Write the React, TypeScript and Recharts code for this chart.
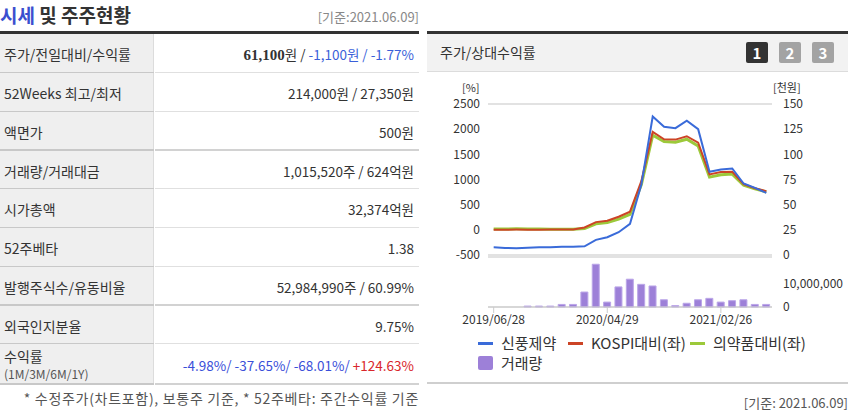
import React from 'react';
import {
  ComposedChart,
  BarChart,
  Bar,
  Line,
  XAxis,
  YAxis,
  CartesianGrid,
  ReferenceLine,
} from 'recharts';

const FONT = '"Noto Sans CJK KR", "Noto Sans", sans-serif';

// monthly points, 2019/06 ~ 2021/06
const dates = [
  '2019/06/28', '2019/07/31', '2019/08/30', '2019/09/30', '2019/10/31',
  '2019/11/29', '2019/12/30', '2020/01/31', '2020/02/28', '2020/03/31',
  '2020/04/29', '2020/05/29', '2020/06/30', '2020/07/31', '2020/08/31',
  '2020/09/29', '2020/10/30', '2020/11/30', '2020/12/30', '2021/01/29',
  '2021/02/26', '2021/03/31', '2021/04/30', '2021/05/31', '2021/06/09',
];
const xTicks = ['2019/06/28', '2020/04/29', '2021/02/26'];

// 신풍제약 주가 (천원, 우축)
const price = [
  7.6, 7.0, 6.7, 7.3, 7.6, 7.6, 8.3, 8.2, 8.6, 15.0, 17.6, 22.6, 31.0,
  70.0, 137.6, 127.4, 126.0, 133.4, 125.0, 82.6, 85.0, 86.0, 71.0, 66.7, 61.7,
];
// KOSPI대비 (%, 좌축)
const kospiRel = [
  0, 3, 5, 3, 4, 5, 6, 7, 47, 153, 180, 260, 360,
  967, 1947, 1800, 1793, 1860, 1733, 1100, 1147, 1153, 907, 827, 767,
];
// 의약품대비 (%, 좌축)
const pharmaRel = [
  15, 18, 20, 18, 15, 12, 10, 12, 27, 120, 147, 213, 307,
  900, 1880, 1753, 1740, 1800, 1667, 1047, 1093, 1107, 887, 813, 753,
];
// 거래량 (주)
const volume = [
  0, 0, 0, 400000, 400000, 400000, 1100000, 1100000, 6400000, 18300000,
  2100000, 8600000, 11900000, 9700000, 9000000, 3100000, 600000, 1600000,
  3100000, 3700000, 2100000, 2700000, 3100000, 1100000, 1100000,
];

const leftTicks = [-500, 0, 500, 1000, 1500, 2000, 2500];
const rightTicks = [0, 25, 50, 75, 100, 125, 150];
const volTicks = [0, 10000000];

const rows: { label: React.ReactNode; value: React.ReactNode; thick?: boolean; h: number }[] = [
  {
    label: '주가/전일대비/수익률',
    value: (
      <span>
        <b style={{ fontFamily: '"Liberation Serif", serif', fontSize: 15 }}>61,100</b>원 /{' '}
        <span style={{ color: '#3a5fd9' }}>-1,100원 / -1.77%</span>
      </span>
    ),
    h: 38,
  },
  { label: '52Weeks 최고/최저', value: '214,000원 / 27,350원', h: 38 },
  { label: '액면가', value: '500원', h: 37, thick: true },
  { label: '거래량/거래대금', value: '1,015,520주 / 624억원', h: 37 },
  { label: '시가총액', value: '32,374억원', h: 38 },
  { label: '52주베타', value: '1.38', h: 38 },
  { label: '발행주식수/유동비율', value: '52,984,990주 / 60.99%', h: 37, thick: true },
  { label: '외국인지분율', value: '9.75%', h: 37 },
  {
    label: (
      <div>
        <div style={{ lineHeight: '19px' }}>수익률</div>
        <div style={{ fontSize: 12, color: '#555', lineHeight: '16px' }}>(1M/3M/6M/1Y)</div>
      </div>
    ),
    value: (
      <span>
        <span style={{ color: '#3a4fd9' }}>-4.98%/ -37.65%/ -68.01%/ </span>
        <span style={{ color: '#d9262b' }}>+124.63%</span>
      </span>
    ),
    h: 39,
    thick: true,
  },
];

const lineData = dates.map((d, i) => ({
  date: d,
  price: price[i],
  kospi: kospiRel[i],
  pharma: pharmaRel[i],
}));
const volData = dates.map((d, i) => ({ date: d, volume: volume[i] }));

const tickStyle = { fill: '#333', fontSize: 12, fontFamily: FONT };

const Btn = ({ n, on }: { n: number; on?: boolean }) => (
  <div
    style={{
      width: 22,
      height: 21,
      borderRadius: 2,
      background: on ? '#333' : '#a3a3a3',
      color: '#fff',
      fontWeight: 700,
      fontSize: 15,
      lineHeight: '21px',
      textAlign: 'center',
      fontFamily: FONT,
    }}
  >
    {n}
  </div>
);

const LegendItem = ({ color, text, square }: { color: string; text: string; square?: boolean }) => (
  <div style={{ display: 'flex', alignItems: 'center' }}>
    {square ? (
      <div style={{ width: 15, height: 14, background: color, borderRadius: 2, marginRight: 8 }} />
    ) : (
      <div style={{ width: 15, height: 3, background: color, marginRight: 8 }} />
    )}
    <span>{text}</span>
  </div>
);

export default function App() {
  let y = 34;
  return (
    <div
      style={{
        position: 'absolute',
        left: 0,
        top: 0,
        width: 858,
        height: 415,
        background: '#fff',
        fontFamily: FONT,
        color: '#333',
        overflow: 'hidden',
      }}
    >
      {/* left: 시세 및 주주현황 */}
      <div style={{ position: 'absolute', left: 0, top: 2, fontSize: 19, fontWeight: 700, lineHeight: '25px' }}>
        <span style={{ color: '#3b4fcf' }}>시세</span> 및 주주현황
      </div>
      <div style={{ position: 'absolute', right: 858 - 419, top: 7, fontSize: 13, color: '#888', lineHeight: '20px' }}>
        [기준:2021.06.09]
      </div>
      <div style={{ position: 'absolute', left: 0, top: 31, width: 419, height: 3, background: '#333' }} />
      {rows.map((r, i) => {
        const top = y;
        y += r.h + (r.thick ? 2 : 1);
        return (
          <div key={i} style={{ position: 'absolute', left: 0, top, width: 419, height: r.h }}>
            <div
              style={{
                position: 'absolute',
                left: 0,
                top: 0,
                width: 154,
                height: r.h,
                background: '#efefef',
                borderRight: '1px solid #dcdcdc',
                fontSize: 14,
                display: 'flex',
                alignItems: 'center',
                paddingLeft: 4,
                paddingTop: 2,
                boxSizing: 'border-box',
              }}
            >
              {r.label}
            </div>
            <div
              style={{
                position: 'absolute',
                right: 5,
                top: 0,
                height: r.h,
                fontSize: 13.5,
                display: 'flex',
                alignItems: 'center',
                paddingTop: 2,
                boxSizing: 'border-box',
              }}
            >
              {r.value}
            </div>
            <div style={{ position: 'absolute', left: 0, top: r.h, width: 154, height: r.thick ? 2 : 1, background: '#c8c8c8' }} />
            <div style={{ position: 'absolute', left: 155, top: r.h, width: 264, height: r.thick ? 2 : 1, background: r.thick ? '#d2d2d2' : '#e0e0e0' }} />
          </div>
        );
      })}
      <div style={{ position: 'absolute', right: 858 - 419, top: 388, fontSize: 14, color: '#555', lineHeight: '20px', letterSpacing: 0.7, whiteSpace: 'nowrap' }}>
        * 수정주가(차트포함), 보통주 기준, * 52주베타: 주간수익률 기준
      </div>

      {/* right: 주가/상대수익률 */}
      <div style={{ position: 'absolute', left: 427, top: 31, width: 421, height: 3, background: '#333' }} />
      <div
        style={{
          position: 'absolute',
          left: 427,
          top: 34,
          width: 421,
          height: 38,
          background: '#f2f2f2',
          borderBottom: '1px solid #dcdcdc',
          boxSizing: 'border-box',
        }}
      >
        <div style={{ position: 'absolute', left: 13, top: 8, fontSize: 14, lineHeight: '20px' }}>주가/상대수익률</div>
        <div style={{ position: 'absolute', left: 319, top: 8, display: 'flex', gap: 11 }}>
          <Btn n={1} on />
          <Btn n={2} />
          <Btn n={3} />
        </div>
      </div>

      <div style={{ position: 'absolute', left: 462, top: 80, fontSize: 11, lineHeight: '14px', color: '#333' }}>[%]</div>
      <div style={{ position: 'absolute', left: 773, top: 80, fontSize: 11, lineHeight: '14px', color: '#333' }}>[천원]</div>

      <div style={{ position: 'absolute', left: 425, top: 80 }}>
        <ComposedChart width={433} height={188} data={lineData} margin={{ top: 24, right: 0, left: 0, bottom: 13 }}>
          <CartesianGrid vertical={false} stroke="#e2e2e2" strokeWidth={2} />
          <XAxis dataKey="date" hide scale="band" />
          <YAxis
            yAxisId="left"
            width={63}
            domain={[-500, 2500]}
            ticks={leftTicks}
            tick={tickStyle}
            tickLine={false}
            axisLine={false}
            interval={0}
          />
          <YAxis
            yAxisId="right"
            orientation="right"
            width={86}
            domain={[0, 150]}
            ticks={rightTicks}
            tick={{ ...tickStyle, textAnchor: 'start' }}
            tickLine={false}
            axisLine={false}
            tickMargin={5}
            interval={0}
          />
          <Line yAxisId="left" dataKey="pharma" stroke="#9cc93a" strokeWidth={3} dot={false} isAnimationActive={false} />
          <Line yAxisId="left" dataKey="kospi" stroke="#cc4426" strokeWidth={2} dot={false} isAnimationActive={false} />
          <Line yAxisId="right" dataKey="price" stroke="#3a6bd9" strokeWidth={2} dot={false} isAnimationActive={false} />
        </ComposedChart>
      </div>

      <div style={{ position: 'absolute', left: 425, top: 250 }}>
        <BarChart width={433} height={87} data={volData} margin={{ top: 7, right: 0, left: 63, bottom: 0 }} barCategoryGap={0}>
          <CartesianGrid vertical={false} stroke="#e2e2e2" strokeWidth={2} />
          <ReferenceLine yAxisId="v" y={21400000} stroke="#e2e2e2" strokeWidth={2} />
          <XAxis
            dataKey="date"
            ticks={xTicks}
            interval={0}
            tick={{ ...tickStyle, fontSize: 12 }}
            stroke="#ccc"
            tickSize={6}
            height={30}
          />
          <YAxis
            yAxisId="v"
            orientation="right"
            width={86}
            domain={[0, 21400000]}
            ticks={volTicks}
            tick={{ ...tickStyle, textAnchor: 'start' }}
            tickFormatter={(v: number) => v.toLocaleString('en-US')}
            tickLine={false}
            axisLine={false}
            tickMargin={5}
            interval={0}
          />
          <Bar yAxisId="v" dataKey="volume" fill="#9d80d8" stroke="#bba6e8" strokeWidth={1} barSize={7} isAnimationActive={false} />
        </BarChart>
      </div>

      {/* legend */}
      <div style={{ position: 'absolute', left: 478, top: 333, fontSize: 15, lineHeight: '20px' }}>
        <div style={{ display: 'flex' }}>
          <div style={{ width: 90 }}>
            <LegendItem color="#3a6bd9" text="신풍제약" />
          </div>
          <div style={{ width: 122 }}>
            <LegendItem color="#cc4426" text="KOSPI대비(좌)" />
          </div>
          <LegendItem color="#9cc93a" text="의약품대비(좌)" />
        </div>
        <div>
          <LegendItem color="#9d80d8" text="거래량" square />
        </div>
      </div>

      <div style={{ position: 'absolute', left: 427, top: 382, width: 421, height: 2, background: '#cfcfcf' }} />
      <div style={{ position: 'absolute', right: 10, top: 393, fontSize: 13, color: '#555', lineHeight: '20px' }}>
        [기준: 2021.06.09]
      </div>
    </div>
  );
}
